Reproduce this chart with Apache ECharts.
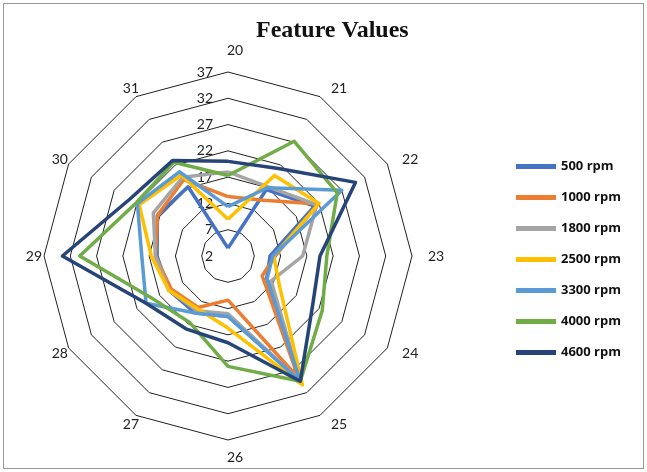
<!DOCTYPE html>
<html>
<head>
<meta charset="utf-8">
<script src="https://cdn.jsdelivr.net/npm/echarts@6/dist/echarts.min.js"></script>
<style>
  html, body { margin: 0; padding: 0; background: #fff; }
  #wrap { position: relative; width: 647px; height: 472px; }
  #chart { position: absolute; left: 0; top: 0; width: 647px; height: 472px; }
  #frame { position: absolute; left: 3px; top: 3px; width: 639px; height: 464px; border: 1px solid #9a9a9a; pointer-events: none; }
</style>
</head>
<body>
<div id="wrap"><div id="chart"></div><div id="frame"></div></div>
<script>
// Axis categories (clockwise from top)
const axisNames = ['20', '21', '22', '23', '24', '25', '26', '27', '28', '29', '30', '31'];
const scaleMin = 2;
const scaleMax = 37;
const scaleSteps = 7;
const seriesNames = ['500 rpm', '1000 rpm', '1800 rpm', '2500 rpm', '3300 rpm', '4000 rpm', '4600 rpm'];
// Values per axis, in axisNames order
const rpm500  = [3.5, 16.6, 21.0, 10.0, 10.5, 29.3, 13.5, 14.5, 15.0, 15.5, 17.5, 17.2];
const rpm1000 = [13.3, 14.3, 21.8, 11.0, 9.5, 28.8, 10.4, 13.3, 14.5, 15.8, 17.5, 18.8];
const rpm1800 = [18.0, 17.2, 21.5, 16.2, 11.5, 29.5, 13.0, 14.0, 15.0, 15.8, 18.4, 19.3];
const rpm2500 = [9.0, 19.7, 22.0, 10.7, 13.3, 30.3, 15.7, 13.6, 15.0, 16.6, 21.5, 19.8];
const rpm3300 = [11.4, 17.0, 27.0, 10.5, 10.6, 29.5, 13.5, 14.5, 20.0, 18.4, 21.9, 20.5];
const rpm4000 = [17.3, 27.2, 26.0, 20.8, 22.7, 29.5, 23.0, 16.6, 18.4, 30.2, 22.2, 22.6];
const rpm4600 = [20.0, 21.2, 30.0, 19.5, 20.6, 29.5, 18.5, 18.0, 20.0, 33.5, 23.6, 23.0];
const seriesColors = ['#4472C4', '#ED7D31', '#A5A5A5', '#FFC000', '#5B9BD5', '#70AD47', '#264478'];

const allValues = [rpm500, rpm1000, rpm1800, rpm2500, rpm3300, rpm4000, rpm4600];

// ECharts places indicators counter-clockwise; reorder so that the chart reads clockwise.
function toCCW(arr) { return [arr[0]].concat(arr.slice(1).reverse()); }

const indicator = toCCW(axisNames).map(function (n, i) {
  const o = { name: n, min: scaleMin, max: scaleMax };
  if (i === 0) {
    o.axisLabel = { show: true };
    o.nameTextStyle = { padding: [0, -8, 5, 6] };
  }
  return o;
});

const chart = echarts.init(document.getElementById('chart'), null, { renderer: 'canvas' });
chart.setOption({
  animation: false,
  backgroundColor: '#fff',
  title: {
    text: 'Feature Values',
    left: 251, top: 14,
    textStyle: { fontFamily: 'Liberation Serif', fontWeight: 'bold', fontSize: 24, color: '#111' }
  },
  legend: {
    orient: 'vertical',
    left: 511, top: 155,
    itemWidth: 40, itemHeight: 5, itemGap: 18,
    icon: 'rect',
    data: seriesNames,
    textStyle: { fontFamily: 'Open Sans', fontWeight: 'bold', fontSize: 13, color: '#111' }
  },
  radar: {
    center: [228, 256],
    radius: 184,
    startAngle: 90,
    shape: 'polygon',
    splitNumber: scaleSteps,
    nameGap: 10,
    indicator: indicator,
    axisName: { color: '#222', fontSize: 14, fontFamily: 'Lato', padding: [0, -8, 0, 6] },
    splitLine: { lineStyle: { color: '#222', width: 1 } },
    splitArea: { show: false },
    axisLine: { show: false },
    axisTick: { show: false },
    axisLabel: { show: false, color: '#222', fontSize: 14, fontFamily: 'Lato', margin: 15 }
  },
  series: [{
    type: 'radar',
    symbol: 'none',
    data: allValues.map(function (vals, i) {
      return {
        name: seriesNames[i],
        value: toCCW(vals),
        lineStyle: { color: seriesColors[i], width: 3.5 },
        itemStyle: { color: seriesColors[i] }
      };
    })
  }]
});
</script>
</body>
</html>
